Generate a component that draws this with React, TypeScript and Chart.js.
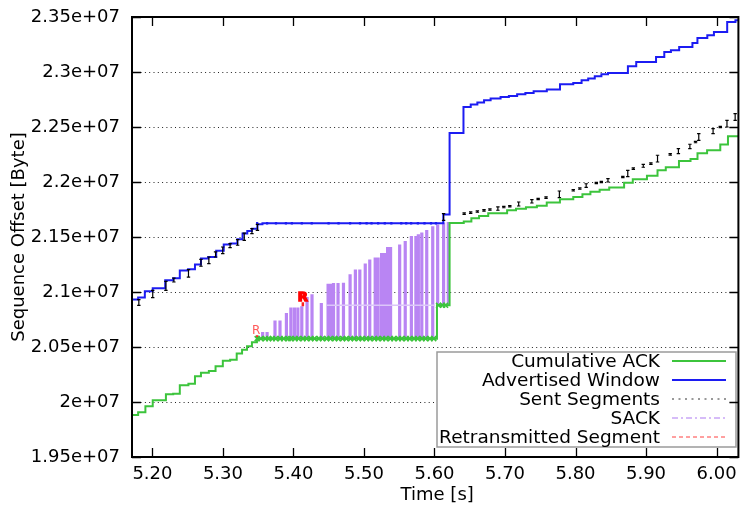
import { useEffect, useRef } from "react";
import { Chart, registerables } from "chart.js";

Chart.register(...registerables);

// ---------- axes ----------
const X_MIN = 5.171;
const X_MAX = 6.031;
const Y_MIN = 19500000;
const Y_MAX = 23500000;
const X_TICKS = [5.2, 5.3, 5.4, 5.5, 5.6, 5.7, 5.8, 5.9, 6.0];
const X_TICK_LABELS = ["5.20", "5.30", "5.40", "5.50", "5.60", "5.70", "5.80", "5.90", "6.00"];
const Y_TICKS = [19500000, 20000000, 20500000, 21000000, 21500000, 22000000, 22500000, 23000000, 23500000];
const Y_TICK_LABELS = ["1.95e+07", "2e+07", "2.05e+07", "2.1e+07", "2.15e+07", "2.2e+07", "2.25e+07", "2.3e+07", "2.35e+07"];
const X_TITLE = "Time [s]";
const Y_TITLE = "Sequence Offset [Byte]";

// ---------- Cumulative ACK (step) ----------
const ACK_TIMES = [
  5.160, 5.1797, 5.1900, 5.2004, 5.2191, 5.2294, 5.2388, 5.2510, 5.2603, 5.2688,
  5.2800, 5.2895, 5.2998, 5.3102, 5.3195, 5.3271, 5.3341, 5.3411, 5.3482, 5.6035,
  5.6214, 5.6415, 5.6523, 5.6632, 5.6762, 5.7030, 5.7156, 5.7297, 5.7452, 5.7592,
  5.7779, 5.7968, 5.8098, 5.8211, 5.8342, 5.8478, 5.8689, 5.8812, 5.9013, 5.9163,
  5.9280, 5.9467, 5.9631, 5.9730, 5.9866, 6.0053, 6.0162, 6.0500,
];
const ACK_SEQ = [
  19882000, 19906000, 19961000, 20015000, 20070000, 20076000, 20152000, 20166000, 20234000, 20267000,
  20282000, 20325000, 20376000, 20385000, 20440000, 20476000, 20506000, 20543000, 20576000, 20879000,
  21627000, 21641000, 21670000, 21691000, 21715000, 21743000, 21756000, 21770000, 21785000, 21813000,
  21843000, 21864000, 21888000, 21911000, 21929000, 21949000, 21993000, 22026000, 22056000, 22106000,
  22134000, 22191000, 22209000, 22261000, 22288000, 22340000, 22415000, 22415000,
];

// ---------- Advertised window (step) ----------
const WIN_TIMES = [
  5.160, 5.1797, 5.1892, 5.2004, 5.2181, 5.2294, 5.2388, 5.2505, 5.2603, 5.2688,
  5.2792, 5.2904, 5.3011, 5.3105, 5.3204, 5.3278, 5.3345, 5.3411, 5.3489, 5.3560,
  5.6125, 5.6214, 5.6411, 5.6514, 5.6608, 5.6703, 5.6796, 5.6937, 5.7055, 5.7172,
  5.7289, 5.7406, 5.7593, 5.7780, 5.7968, 5.8086, 5.8180, 5.8273, 5.8367, 5.8461,
  5.8743, 5.8861, 5.9142, 5.9259, 5.9353, 5.9470, 5.9658, 5.9729, 5.9869, 5.9963,
  6.0151, 6.0268, 6.0500,
];
const WIN_SEQ = [
  20931000, 20949000, 21006000, 21034000, 21106000, 21125000, 21195000, 21206000, 21249000, 21304000,
  21318000, 21376000, 21431000, 21440000, 21479000, 21531000, 21555000, 21576000, 21615000, 21625000,
  21704000, 22445000, 22682000, 22704000, 22722000, 22743000, 22758000, 22773000, 22782000, 22797000,
  22809000, 22825000, 22840000, 22888000, 22900000, 22925000, 22940000, 22961000, 22979000, 22991000,
  23052000, 23091000, 23136000, 23182000, 23197000, 23227000, 23264000, 23309000, 23334000, 23364000,
  23455000, 23470000, 23470000,
];

// window update points on the flat part
const WINPT_TIMES = [
  5.3485, 5.3626, 5.3752, 5.3893, 5.3977, 5.4118, 5.4259, 5.4498, 5.4639, 5.4803,
  5.4944, 5.5037, 5.5107, 5.5201, 5.5295, 5.5388, 5.5529, 5.5599, 5.5669, 5.5764,
  5.5858, 5.5951, 5.6021,
];
const WINPT_SEQ = [
  21625000, 21625000, 21625000, 21625000, 21625000, 21625000, 21625000, 21625000, 21625000, 21625000,
  21625000, 21625000, 21625000, 21625000, 21625000, 21625000, 21625000, 21625000, 21625000, 21625000,
  21625000, 21625000, 21625000,
];

// ---------- Sent segments ----------
const SENT_TIMES = [
  5.1807, 5.2004, 5.2191, 5.2304, 5.2511, 5.2688, 5.2800, 5.2895, 5.2997, 5.3101,
  5.3208, 5.3302, 5.3411, 5.3489, 5.6129,
  5.6421, 5.6513, 5.6608, 5.6702, 5.6786, 5.6899, 5.6983, 5.7068, 5.7194, 5.7381,
  5.7470, 5.7582, 5.7771, 5.7968, 5.8061, 5.8151, 5.8295, 5.8366, 5.8460, 5.8671,
  5.8741, 5.8820, 5.8961, 5.9069, 5.9163, 5.9343, 5.9459, 5.9622, 5.9702, 5.9748,
  5.9951, 6.0053, 6.0148, 6.0264,
];
const SENT_LO = [
  20879000, 20949000, 21015000, 21091000, 21136000, 21234000, 21258000, 21318000, 21349000, 21404000,
  21425000, 21470000, 21531000, 21561000, 21652000,
  21706000, 21715000, 21725000, 21736000, 21743000, 21743000, 21766000, 21773000, 21782000, 21809000,
  21839000, 21852000, 21858000, 21918000, 21934000, 21952000, 21985000, 21994000, 22000000, 22039000,
  22049000, 22115000, 22134000, 22161000, 22182000, 22245000, 22258000, 22304000, 22357000, 22379000,
  22440000, 22494000, 22500000, 22561000,
];
const SENT_HI = [
  20931000, 21015000, 21097000, 21127000, 21204000, 21297000, 21318000, 21364000, 21409000, 21440000,
  21476000, 21536000, 21576000, 21615000, 21713000,
  21719000, 21728000, 21737000, 21749000, 21755000, 21773000, 21779000, 21785000, 21818000, 21840000,
  21852000, 21865000, 21918000, 21931000, 21946000, 21984000, 21997000, 22006000, 22031000, 22052000,
  22106000, 22128000, 22161000, 22174000, 22243000, 22258000, 22304000, 22343000, 22370000, 22440000,
  22485000, 22506000, 22561000, 22622000,
];

// ---------- SACK blocks ----------
const SACK_TIMES = [
  5.3563, 5.3626, 5.3738, 5.3809, 5.3900, 5.3963, 5.4013, 5.4062, 5.4118, 5.4193,
  5.4263, 5.4395, 5.4491, 5.4533, 5.4568, 5.4632, 5.4709, 5.4803, 5.4878, 5.4941,
  5.5018, 5.5082, 5.5159, 5.5201, 5.5250, 5.5293, 5.5335, 5.5377, 5.5506, 5.5585,
  5.5672, 5.5736, 5.5771, 5.5820, 5.5890, 5.5975, 5.6045, 5.6129, 5.6196,
];
const SACK_LO = [
  20576000, 20576000, 20576000, 20576000, 20576000, 20576000, 20576000, 20576000, 20576000, 20576000,
  20576000, 20576000, 20576000, 20576000, 20576000, 20576000, 20576000, 20576000, 20576000, 20576000,
  20576000, 20576000, 20576000, 20576000, 20576000, 20576000, 20576000, 20576000, 20576000, 20576000,
  20576000, 20576000, 20576000, 20576000, 20576000, 20576000, 20879000, 20879000, 20879000,
];
const SACK_HI = [
  20636000, 20636000, 20740000, 20740000, 20809000, 20858000, 20858000, 20858000, 20870000, 20955000,
  20979000, 20900000, 21076000, 21076000, 21082000, 21082000, 21085000, 21161000, 21204000, 21204000,
  21258000, 21295000, 21313000, 21313000, 21355000, 21355000, 21409000, 21409000, 21431000, 21464000,
  21509000, 21509000, 21525000, 21540000, 21564000, 21597000, 21613000, 21631000, 21636000,
];
const SEAM_TIMES = [5.447, 5.600];
const SEAM_SEQ = [20879000, 20879000];

// ---------- duplicate ACK markers ----------
const DUPACK_TIMES = [
  5.3485, 5.3538, 5.3601, 5.3650, 5.3699, 5.3748, 5.3812, 5.3861, 5.3925, 5.3962,
  5.4024, 5.4071, 5.4136, 5.4185, 5.4248, 5.4297, 5.4362, 5.4410, 5.4473, 5.4522,
  5.4587, 5.4635, 5.4699, 5.4748, 5.4811, 5.4860, 5.4925, 5.4973, 5.5036, 5.5085,
  5.5149, 5.5198, 5.5262, 5.5310, 5.5375, 5.5423, 5.5487, 5.5536, 5.5600, 5.5648,
  5.5712, 5.5761, 5.5824, 5.5873, 5.5936, 5.5990, 5.6058, 5.6114, 5.6157,
];
const DUPACK_SEQ = [
  20576000, 20576000, 20576000, 20576000, 20576000, 20576000, 20576000, 20576000, 20576000, 20576000,
  20576000, 20576000, 20576000, 20576000, 20576000, 20576000, 20576000, 20576000, 20576000, 20576000,
  20576000, 20576000, 20576000, 20576000, 20576000, 20576000, 20576000, 20576000, 20576000, 20576000,
  20576000, 20576000, 20576000, 20576000, 20576000, 20576000, 20576000, 20576000, 20576000, 20576000,
  20576000, 20576000, 20576000, 20576000, 20576000, 20576000, 20879000, 20879000, 20879000,
];

// ---------- retransmissions ----------
const RETX_TIMES = [5.3485, 5.4133];
const RETX_LO = [20579000, 20870000];
const RETX_HI = [20606000, 20906000];
const RETX_LABEL = "R";

const LEGEND_LABELS = ["Cumulative ACK", "Advertised Window", "Sent Segments", "SACK", "Retransmitted Segment"];

// ---------- styles ----------
const GREEN = "#3cc43c";
const BLUE = "#1c1cf2";
const LAVENDER = "#b985f3";
const FONT = "DejaVu Sans";

const pts = (ts: number[], vs: number[]) => ts.map((t, i) => ({ x: t, y: vs[i] }));
const segs = (ts: number[], lo: number[], hi: number[]) => {
  const out: { x: number; y: number | null }[] = [];
  ts.forEach((t, i) => {
    out.push({ x: t, y: lo[i] });
    out.push({ x: t, y: hi[i] });
    out.push({ x: t, y: null });
  });
  return out;
};

const overlay = {
  id: "overlay",
  beforeDatasetsDraw(chart: any) {
    const { ctx, chartArea: a, scales } = chart;
    const y = scales.y;
    ctx.save();
    ctx.strokeStyle = "#222";
    ctx.lineWidth = 1;
    ctx.setLineDash([1, 3.3]);
    Y_TICKS.slice(1, -1).forEach((v) => {
      const py = Math.round(y.getPixelForValue(v)) + 0.5;
      ctx.beginPath();
      ctx.moveTo(a.left, py);
      ctx.lineTo(a.right, py);
      ctx.stroke();
    });
    ctx.restore();
  },
  afterDatasetsDraw(chart: any) {
    const { ctx, chartArea: a, scales } = chart;
    const x = scales.x;
    const y = scales.y;
    ctx.save();
    // retransmission labels
    RETX_TIMES.forEach((t, i) => {
      const px = x.getPixelForValue(t);
      const py = y.getPixelForValue(RETX_HI[i]) - 1;
      ctx.textAlign = "center";
      ctx.textBaseline = "alphabetic";
      if (i === 0) {
        ctx.font = `12px ${FONT}`;
        ctx.fillStyle = "#ff5a5a";
        ctx.fillText(RETX_LABEL, px - 1, py);
      } else {
        ctx.font = `bold 13px ${FONT}`;
        ctx.fillStyle = "#ff0000";
        ctx.strokeStyle = "#ff0000";
        ctx.lineWidth = 1.5;
        ctx.strokeText(RETX_LABEL, px, py);
        ctx.fillText(RETX_LABEL, px, py);
      }
    });

    // legend box
    const bx = 437, by = 352, bw = 299, bh = 95;
    ctx.fillStyle = "#fff";
    ctx.fillRect(bx, by, bw, bh);
    ctx.strokeStyle = "#9a9a9a";
    ctx.lineWidth = 1.5;
    ctx.strokeRect(bx, by, bw, bh);
    ctx.font = `18.5px ${FONT}`;
    ctx.fillStyle = "#000";
    ctx.textAlign = "right";
    ctx.textBaseline = "middle";
    const rows = [361, 380, 399, 418, 437];
    const styles = [
      { c: GREEN, w: 2, d: [] as number[] },
      { c: BLUE, w: 2, d: [] as number[] },
      { c: "#333", w: 1, d: [2, 4.5] },
      { c: "#c9a6f6", w: 1.5, d: [6, 3, 2, 3] },
      { c: "#ff4040", w: 1, d: [4, 3] },
    ];
    LEGEND_LABELS.forEach((lab, i) => {
      ctx.fillText(lab, 660, rows[i] + 1);
      ctx.save();
      ctx.strokeStyle = styles[i].c;
      ctx.lineWidth = styles[i].w;
      ctx.setLineDash(styles[i].d);
      ctx.beginPath();
      ctx.moveTo(672, rows[i]);
      ctx.lineTo(726, rows[i]);
      ctx.stroke();
      ctx.restore();
    });

    // frame
    ctx.strokeStyle = "#000";
    ctx.lineWidth = 2;
    ctx.setLineDash([]);
    ctx.strokeRect(a.left, a.top, a.right - a.left, a.bottom - a.top);
    // ticks
    ctx.lineWidth = 1.3;
    X_TICKS.forEach((v) => {
      const px = Math.round(x.getPixelForValue(v)) + 0.5;
      ctx.beginPath();
      ctx.moveTo(px, a.bottom);
      ctx.lineTo(px, a.bottom - 9);
      ctx.moveTo(px, a.top);
      ctx.lineTo(px, a.top + 9);
      ctx.stroke();
    });
    Y_TICKS.forEach((v) => {
      const py = Math.round(y.getPixelForValue(v)) + 0.5;
      ctx.beginPath();
      ctx.moveTo(a.left, py);
      ctx.lineTo(a.left + 9, py);
      ctx.moveTo(a.right, py);
      ctx.lineTo(a.right - 9, py);
      ctx.stroke();
    });

    // axis titles
    ctx.fillStyle = "#000";
    ctx.font = `18px ${FONT}`;
    ctx.textAlign = "center";
    ctx.textBaseline = "middle";
    ctx.fillText(X_TITLE, (a.left + a.right) / 2 + 2, 495);
    ctx.save();
    ctx.translate(19, (a.top + a.bottom) / 2);
    ctx.rotate(-Math.PI / 2);
    ctx.fillText(Y_TITLE, 0, 0);
    ctx.restore();
    ctx.restore();
  },
};

export default function App() {
  const ref = useRef<HTMLCanvasElement | null>(null);
  useEffect(() => {
    if (!ref.current) return;
    Chart.defaults.font.family = FONT;
    Chart.defaults.font.size = 18;
    Chart.defaults.color = "#000";
    const chart = new Chart(ref.current, {
      type: "line",
      data: {
        datasets: [
          {
            label: "dupacks",
            data: pts(DUPACK_TIMES, DUPACK_SEQ),
            showLine: false,
            pointStyle: "crossRot",
            pointRadius: 3.5,
            pointBorderWidth: 1.6,
            pointBorderColor: GREEN,
            pointBackgroundColor: GREEN,
            order: 0,
          },
          {
            label: "retx",
            data: segs(RETX_TIMES, RETX_LO, RETX_HI),
            borderColor: "#ff2020",
            borderWidth: 2.5,
            borderCapStyle: "butt",
            pointRadius: 0,
            spanGaps: false,
            order: 0,
          },
          {
            label: LEGEND_LABELS[0],
            data: pts(ACK_TIMES, ACK_SEQ),
            stepped: "before",
            borderColor: GREEN,
            borderWidth: 2,
            pointRadius: 0,
            order: 1,
          },
          {
            label: LEGEND_LABELS[2],
            data: segs(SENT_TIMES, SENT_LO, SENT_HI),
            borderColor: "#000",
            borderWidth: 1.2,
            borderCapStyle: "butt",
            pointStyle: "line",
            pointRadius: 1.7,
            pointBorderWidth: 1.2,
            pointBorderColor: "#000",
            spanGaps: false,
            order: 2,
          },
          {
            label: LEGEND_LABELS[1],
            data: pts(WIN_TIMES, WIN_SEQ),
            stepped: "before",
            borderColor: BLUE,
            borderWidth: 2,
            pointRadius: 0,
            order: 3,
          },
          {
            label: "winpts",
            data: pts(WINPT_TIMES, WINPT_SEQ),
            showLine: false,
            pointStyle: "rect",
            pointRadius: 1.6,
            pointBorderWidth: 0,
            pointBackgroundColor: BLUE,
            order: 3,
          },
          {
            label: "seam",
            data: pts(SEAM_TIMES, SEAM_SEQ),
            borderColor: "#dcc6fa",
            borderWidth: 1.5,
            pointRadius: 0,
            order: 4,
          },
          {
            label: LEGEND_LABELS[3],
            data: segs(SACK_TIMES, SACK_LO, SACK_HI),
            borderColor: LAVENDER,
            borderWidth: 3.2,
            borderCapStyle: "butt",
            pointRadius: 0,
            spanGaps: false,
            order: 5,
          },
        ] as any,
      },
      options: {
        responsive: false,
        animation: false,
        events: [],
        layout: { padding: { left: 0, top: 17, right: 1, bottom: 0 } },
        plugins: { legend: { display: false }, tooltip: { enabled: false }, title: { display: false } },
        elements: { line: { tension: 0 } },
        scales: {
          x: {
            type: "linear",
            min: X_MIN,
            max: X_MAX,
            grid: { display: false, drawTicks: false },
            border: { display: false },
            afterBuildTicks: (s: any) => {
              s.ticks = X_TICKS.map((v) => ({ value: v }));
            },
            afterFit: (s: any) => {
              s.height = 50;
              s.paddingLeft = 0;
              s.paddingRight = 0;
            },
            ticks: {
              padding: 7,
              maxRotation: 0,
              autoSkip: false,
              font: { size: 18, family: FONT },
              color: "#000",
              callback: (_v: any, i: number) => X_TICK_LABELS[i],
            },
          },
          y: {
            type: "linear",
            min: Y_MIN,
            max: Y_MAX,
            grid: { display: false, drawTicks: false },
            border: { display: false },
            afterBuildTicks: (s: any) => {
              s.ticks = Y_TICKS.map((v) => ({ value: v }));
            },
            afterFit: (s: any) => {
              s.width = 132;
              s.paddingTop = 0;
              s.paddingBottom = 0;
            },
            ticks: {
              padding: 12,
              autoSkip: false,
              font: { size: 18, family: FONT },
              color: "#000",
              callback: (_v: any, i: number) => Y_TICK_LABELS[i],
            },
          },
        },
      } as any,
      plugins: [overlay],
    });
    return () => chart.destroy();
  }, []);
  return (
    <div style={{ position: "absolute", left: 0, top: 0, width: 744, height: 507, background: "#fff" }}>
      <canvas ref={ref} width={744} height={507} style={{ display: "block" }} />
    </div>
  );
}
